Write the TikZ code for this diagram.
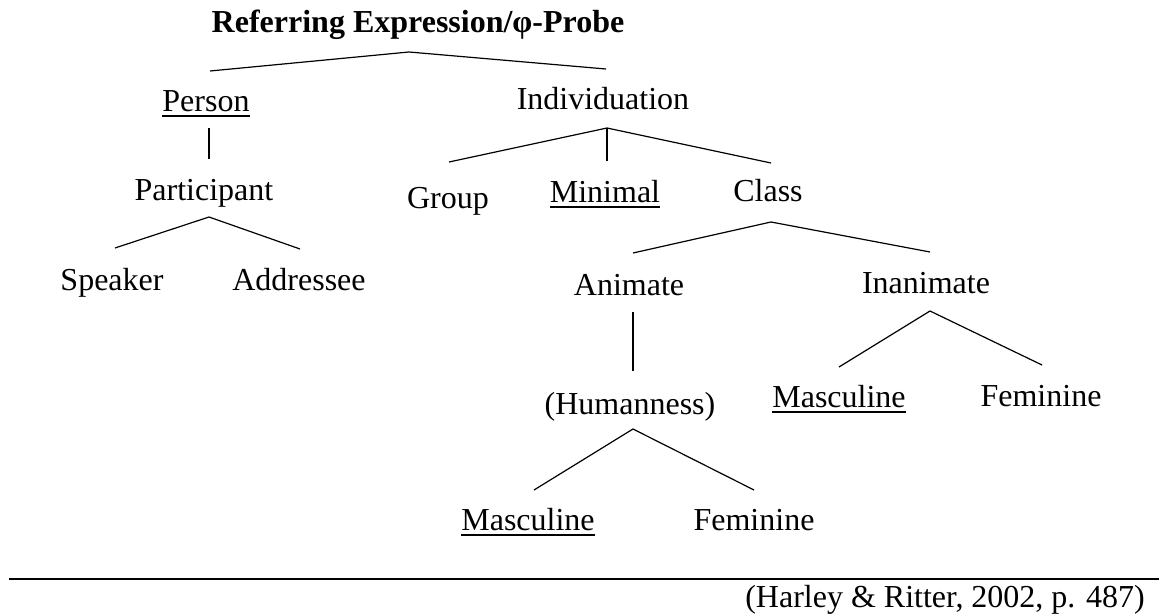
\documentclass[tikz,border=0pt]{standalone}
\usepackage{fontspec}
\setmainfont{Liberation Serif}
\begin{document}
\begin{tikzpicture}[x=1pt,y=-1pt,
  lbl/.style={inner sep=0pt, anchor=base, font=\fontsize{32}{38}\selectfont},
  ttl/.style={lbl, font=\fontsize{32}{38}\selectfont\bfseries},
  branch/.style={line width=1.2pt},
  uline/.style={line width=2pt},
  rulebar/.style={line width=2.4pt}]
\useasboundingbox (0,0) rectangle (1159,615);

% labels of the feature geometry
\node[ttl] (root) at (418,33) {Referring Expression/φ-Probe};
\node[lbl] (person) at (206,112) {Person};
\node[lbl] (indiv) at (603,110) {Individuation};
\node[lbl] (part) at (204,200) {Participant};
\node[lbl] (group) at (448,208) {Group};
\node[lbl] (minimal) at (605,202) {Minimal};
\node[lbl] (class) at (768,201) {Class};
\node[lbl] (speaker) at (112,290) {Speaker};
\node[lbl] (addr) at (299,290) {Addressee};
\node[lbl] (anim) at (629,295) {Animate};
\node[lbl] (inanim) at (926,293) {Inanimate};
\node[lbl] (human) at (630,414) {(Humanness)};
\node[lbl] (mascA) at (839,407) {Masculine};
\node[lbl] (femA) at (1041,406) {Feminine};
\node[lbl] (mascB) at (528,530) {Masculine};
\node[lbl] (femB) at (754,530) {Feminine};
\node[lbl, anchor=base east] (cite) at (1145,607) {(Harley \& Ritter, 2002, p. 487)};

% default values are underlined
\foreach \n in {person,minimal,mascA,mascB}
  \draw[uline] ([yshift=-4.5pt]\n.base west) -- ([yshift=-4.5pt]\n.base east);

% branch points
\coordinate (rootTop) at (409,52);
\coordinate (rootL) at (210,71);
\coordinate (rootR) at (606,69);
\coordinate (personTop) at (209,128);
\coordinate (personBot) at (209,159);
\coordinate (indivTop) at (607,128);
\coordinate (indivL) at (449,162);
\coordinate (indivM) at (607,161);
\coordinate (indivR) at (771,163);
\coordinate (partTop) at (209,217);
\coordinate (partL) at (115,248);
\coordinate (partR) at (300,249);
\coordinate (classTop) at (771,222);
\coordinate (classL) at (633,253);
\coordinate (classR) at (930,252);
\coordinate (animTop) at (633,312);
\coordinate (animBot) at (633,371);
\coordinate (inanimTop) at (930,311);
\coordinate (inanimL) at (839,367);
\coordinate (inanimR) at (1042,365);
\coordinate (humanTop) at (633,429);
\coordinate (humanL) at (534,490);
\coordinate (humanR) at (754,490);

\draw[branch] (rootL) -- (rootTop) -- (rootR);
\draw[branch] (personTop) -- (personBot);
\draw[branch] (indivL) -- (indivTop) -- (indivR);
\draw[branch] (indivTop) -- (indivM);
\draw[branch] (partL) -- (partTop) -- (partR);
\draw[branch] (classL) -- (classTop) -- (classR);
\draw[branch] (animTop) -- (animBot);
\draw[branch] (inanimL) -- (inanimTop) -- (inanimR);
\draw[branch] (humanL) -- (humanTop) -- (humanR);

% source line
\coordinate (ruleL) at (9,579);
\coordinate (ruleR) at (1159,579);
\draw[rulebar] (ruleL) -- (ruleR);
\end{tikzpicture}
\end{document}
